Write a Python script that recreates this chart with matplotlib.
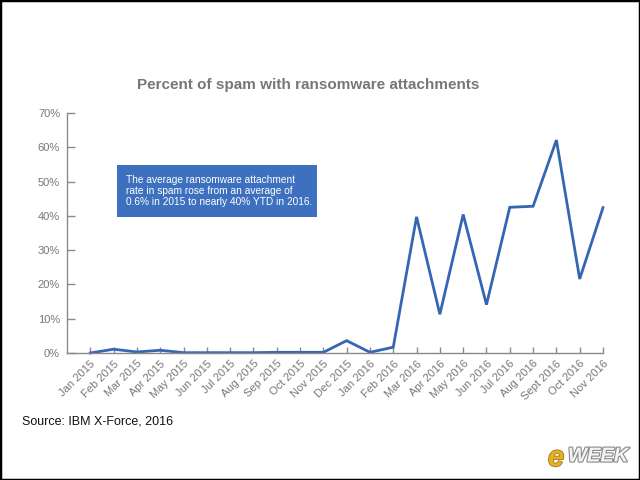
import matplotlib
matplotlib.use("Agg")
import matplotlib.pyplot as plt
import matplotlib.patheffects as pe
from matplotlib.patches import Rectangle

months = ["Jan 2015", "Feb 2015", "Mar 2015", "Apr 2015", "May 2015", "Jun 2015",
          "Jul 2015", "Aug 2015", "Sep 2015", "Oct 2015", "Nov 2015", "Dec 2015",
          "Jan 2016", "Feb 2016", "Mar 2016", "Apr 2016", "May 2016", "Jun 2016",
          "Jul 2016", "Aug 2016", "Sept 2016", "Oct 2016", "Nov 2016"]
values = [0.0, 1.1, 0.3, 0.8, 0.1, 0.1, 0.1, 0.1, 0.2, 0.2, 0.2, 3.6,
          0.2, 1.7, 39.7, 11.3, 40.4, 14.1, 42.5, 42.8, 62.1, 21.6, 42.4]
yticks = [0, 10, 20, 30, 40, 50, 60, 70]
title = "Percent of spam with ransomware attachments"
note = ("The average ransomware attachment\n"
        "rate in spam rose from an average of\n"
        "0.6% in 2015 to nearly 40% YTD in 2016.")
source = "Source: IBM X-Force, 2016"

plt.rcParams['font.family'] = ['Liberation Sans', 'DejaVu Sans']

fig = plt.figure(figsize=(6.4, 4.8), dpi=100)
W, H = 640, 480
ax = fig.add_axes([67 / W, 1 - 353 / H, (603 - 67) / W, (353 - 113) / H])

x = list(range(len(months)))
ax.plot(x, values, color='#3566b3', lw=2.0, solid_joinstyle='miter', clip_on=False)
ax.set_xlim(-1, len(months) - 1)
ax.set_ylim(0, 70)
ax.set_yticks(yticks)
ax.set_yticklabels([f"{v}%" for v in yticks])
ax.set_xticks(x)
ax.set_xticklabels(months, rotation=45, ha='right', rotation_mode='anchor')

for s in ['top', 'right']:
    ax.spines[s].set_visible(False)
for s in ['left', 'bottom']:
    ax.spines[s].set_color('#8a8a8a')
    ax.spines[s].set_linewidth(1.0)
ax.tick_params(axis='y', direction='in', length=6, width=1, color='#8a8a8a',
               labelsize=8, labelcolor='#777777', pad=5)
ax.tick_params(axis='x', direction='in', length=4, width=1, color='#8a8a8a',
               labelsize=8, labelcolor='#777777', pad=4)

fig.text(308 / W, 1 - 85 / H, title, ha='center', va='center', fontsize=11,
         fontweight='bold', color='#777777')

fig.patches.append(Rectangle((117 / W, 1 - 217 / H), (317 - 117) / W, (217 - 165) / H,
                             transform=fig.transFigure, facecolor='#3d70bf',
                             edgecolor='none'))
fig.text(126 / W, 1 - 191 / H, note, ha='left', va='center', fontsize=7.3,
         color='white', linespacing=1.15)

fig.text(22 / W, 1 - 421 / H, source, ha='left', va='center', fontsize=9,
         color='#111111')

# logo
fig.text(548 / W, 1 - 458 / H, "e", ha='left', va='center', fontsize=21,
         fontweight='bold', style='italic', color='#e8b020',
         path_effects=[pe.withStroke(linewidth=1.2, foreground='#9a7a20')])
fig.text(568 / W, 1 - 456 / H, "WEEK", ha='left', va='center', fontsize=14.5,
         fontweight='bold', style='italic', color='#f4f4f4',
         path_effects=[pe.withStroke(linewidth=1.6, foreground='#888888')])

fig.patches.append(Rectangle((0, 0), 1, 1, transform=fig.transFigure,
                             facecolor='none', edgecolor='black', lw=2.5))

fig.savefig("out.png", dpi=100)
